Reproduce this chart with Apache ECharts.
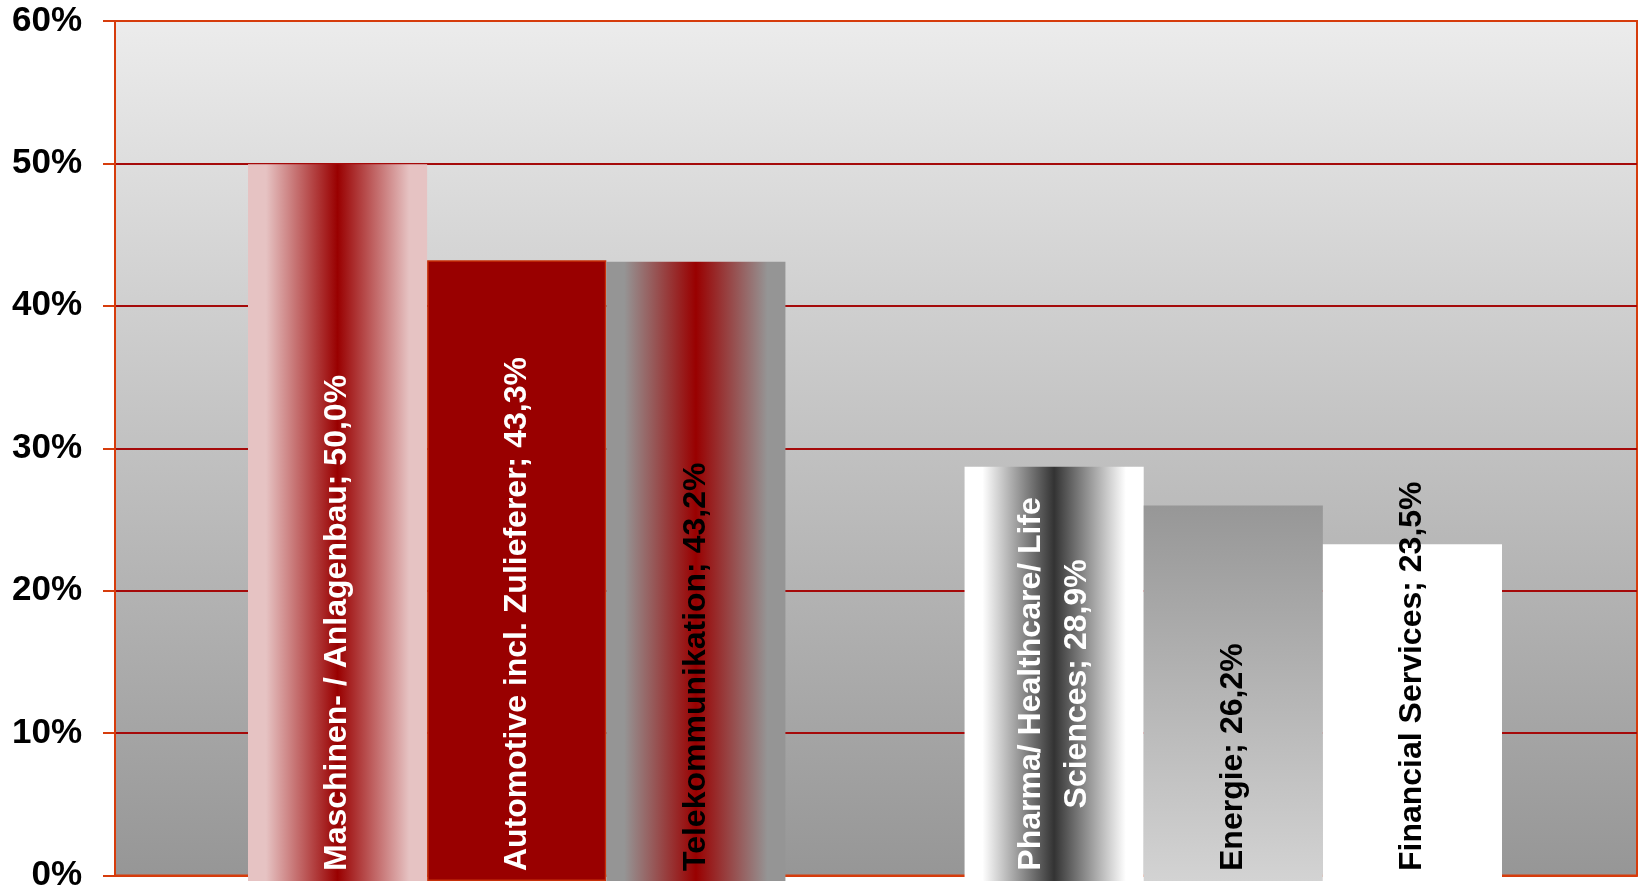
<!DOCTYPE html>
<html>
<head>
<meta charset="utf-8">
<script src="https://cdn.jsdelivr.net/npm/echarts@6/dist/echarts.min.js"></script>
<style>
	html, body { margin: 0; padding: 0; background: #fff; }
	#main { width: 1640px; height: 893px; }
</style>
</head>
<body>
<div id="main"></div>
<script>
	// Branchen und Anteile
	const categories = ['Maschinen- / Anlagenbau', 'Automotive incl. Zulieferer', 'Telekommunikation',
		'Pharma/ Healthcare/ Life\nSciences', 'Energie', 'Financial Services'];
	const values = [50.0, 43.3, 43.2, 28.9, 26.2, 23.5];
	const yMin = 0;
	const yMax = 60;
	const yStep = 10;

	const orange = '#D63C0C';
	const darkRed = '#990000';
	const font = 'Liberation Sans, Arial, sans-serif';

	function hGrad(edge, mid, flat) {
		return {
			type: 'linear', x: 0, y: 0, x2: 1, y2: 0,
			colorStops: [
				{ offset: 0, color: edge },
				{ offset: flat, color: edge },
				{ offset: 0.5, color: mid },
				{ offset: 1 - flat, color: edge },
				{ offset: 1, color: edge }
			]
		};
	}

	// Aussehen pro Balken
	const barStyles = [
		{ color: hGrad('#E6C3C3', darkRed, 0.1), text: '#fff' },
		{ color: darkRed, text: '#fff', borderColor: '#C8300A', borderWidth: 1.5 },
		{ color: hGrad('#959595', darkRed, 0.1), text: '#000' },
		{ color: hGrad('#FFFFFF', '#333333', 0.1), text: '#fff', twoLines: true },
		{ color: { type: 'linear', x: 0, y: 0, x2: 0, y2: 1, colorStops: [{ offset: 0, color: '#979797' }, { offset: 1, color: '#D3D3D3' }] }, text: '#000' },
		{ color: '#FFFFFF', text: '#000' }
	];

	// eine leere Lücke zwischen den beiden Gruppen
	const axisData = [];
	const barData = [];
	categories.forEach(function (c, i) {
		if (i === 3) {
			axisData.push('');
			barData.push('-');
		}
		const s = barStyles[i];
		const item = {
			value: values[i],
			itemStyle: { color: s.color, borderColor: s.borderColor || 'transparent', borderWidth: s.borderWidth || 0 },
			label: { color: s.text }
		};
		if (s.twoLines) {
			item.label.position = 'inside';
			item.label.align = 'center';
			item.label.lineHeight = 46;
			item.label.offset = [-10, 0];
		}
		axisData.push(c);
		barData.push(item);
	});

	let myChart = echarts.init(document.getElementById('main'));
	let option = {
		animation: false,
		backgroundColor: '#fff',
		grid: [{
			left: 115, right: 3, top: 21, bottom: 12,
			show: true,
			borderColor: orange,
			borderWidth: 2,
			backgroundColor: {
				type: 'linear', x: 0, y: 0, x2: 0, y2: 1,
				colorStops: [{ offset: 0, color: '#ECECEC' }, { offset: 1, color: '#969696' }]
			}
		}, {
			left: 248, right: 138, top: 21, bottom: 12
		}],
		xAxis: [{
			gridIndex: 0, type: 'value', min: 0, max: 1,
			axisLine: { show: true, lineStyle: { color: orange, width: 2 } },
			axisTick: { show: false }, axisLabel: { show: false }, splitLine: { show: false }
		}, {
			gridIndex: 1, type: 'category', data: axisData, show: false
		}],
		yAxis: [{
			gridIndex: 0, type: 'value', min: yMin, max: yMax, interval: yStep,
			axisLine: { show: true, lineStyle: { color: orange, width: 2 } },
			axisTick: { show: true, length: 12, lineStyle: { color: orange, width: 2 } },
			axisLabel: {
				formatter: '{value}%', margin: 33, padding: [6, 0, 0, 0],
				color: '#000', fontSize: 35, fontWeight: 'bold', fontFamily: font
			},
			splitLine: { show: true, showMinLine: false, showMaxLine: false, lineStyle: { color: '#A50A0A', width: 2 } }
		}, {
			gridIndex: 1, type: 'value', min: yMin, max: yMax, show: false
		}],
		series: [{
			type: 'bar',
			xAxisIndex: 1,
			yAxisIndex: 1,
			barCategoryGap: '0%',
			data: barData,
			label: {
				show: true,
				position: 'insideBottom',
				rotate: 90,
				align: 'left',
				verticalAlign: 'middle',
				distance: 10,
				fontSize: 32,
				fontWeight: 'bold',
				fontFamily: font,
				formatter: function (p) {
					return p.name + '; ' + p.value.toFixed(1).replace('.', ',') + '%';
				}
			}
		}]
	};
	myChart.setOption(option);
</script>
</body>
</html>
